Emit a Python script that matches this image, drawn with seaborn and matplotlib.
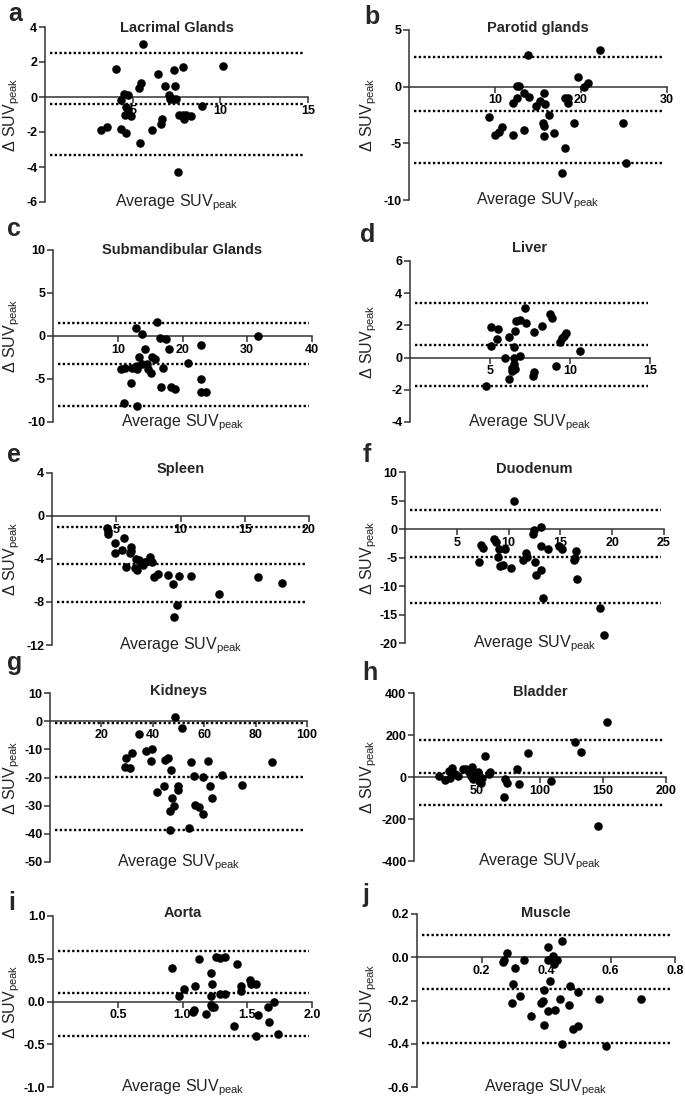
import matplotlib
matplotlib.use('Agg')
import matplotlib.pyplot as plt
import seaborn as sns

sns.set_style('ticks')
plt.rcParams['font.family'] = ['Liberation Sans', 'DejaVu Sans']
plt.rcParams['mathtext.default'] = 'regular'
plt.rcParams['axes.unicode_minus'] = False

# a - Lacrimal glands
lacrimal_avg = [5.58, 4.06, 3.2, 3.53, 4.35, 4.6, 4.31, 4.48, 4.74, 4.63, 4.55, 4.88,
                4.74, 5.35, 5.46, 5.39, 6.11, 6.45, 6.6, 6.66, 6.87, 7.1, 7.13, 7.29,
                7.36, 7.44, 7.48, 7.63, 7.61, 7.86, 7.89, 7.95, 8.05, 8.33, 8.94, 10.13]
lacrimal_diff = [3.05, 1.62, -1.9, -1.71, -1.81, -2.06, -0.15, 0.19, 0.13, -0.57, -1.05, -1.07,
                 -0.76, 0.53, 0.8, -2.63, -1.87, 1.3, -1.52, -1.24, 0.61, 0.1, -0.1, -0.1,
                 1.56, 0.61, -0.11, -1.0, -4.3, 1.71, -1.0, -1.24, -1.05, -1.07, -0.5, 1.77]
lacrimal_lines = [2.53, -0.38, -3.3]

# b - Parotid glands
parotid_avg = [13.86, 22.2, 19.7, 20.8, 20.35, 12.59, 12.8, 12.5, 12.05, 13.4, 13.9, 14.75,
               15.25, 15.64, 15.83, 16.3, 15.6, 15.75, 15.7, 16.87, 18.1, 18.45, 18.53, 19.15,
               18.1, 17.76, 9.34, 10.0, 10.42, 10.81, 12.12, 13.32, 24.9, 25.2]
parotid_diff = [2.79, 3.24, 0.88, 0.29, -0.06, 0.06, 0.06, -1.03, -1.41, -0.53, -0.94, -1.7,
                -1.26, -0.59, -1.53, -2.5, -3.24, -3.47, -4.32, -4.12, -0.97, -0.97, -1.41, -3.18,
                -5.44, -7.65, -2.65, -4.26, -3.97, -3.56, -4.26, -3.82, -3.24, -6.76]
parotid_lines = [2.59, -2.12, -6.76]

# c - Submandibular glands
subm_avg = [12.8, 13.73, 15.99, 16.45, 17.48, 17.89, 14.14, 13.26, 10.54, 11.05, 12.24, 12.9,
            13.0, 13.77, 14.55, 14.65, 15.06, 15.32, 15.83, 17.02, 20.87, 11.98, 16.66, 18.25,
            18.77, 22.78, 22.78, 22.93, 23.65, 31.67, 10.95, 12.9]
subm_diff = [0.97, 0.19, 1.59, -0.19, -0.35, -1.55, -1.47, -2.4, -3.83, -3.68, -3.75, -3.83,
             -3.44, -3.25, -3.29, -3.83, -4.26, -2.4, -2.7, -3.68, -3.09, -5.42, -5.88, -5.88,
             -6.15, -1.04, -4.99, -6.46, -6.46, 0.0, -7.81, -8.12]
subm_lines = [1.55, -3.29, -8.12]

# d - Liver
liver_avg = [4.75, 5.04, 5.04, 5.48, 5.42, 5.94, 6.21, 6.21, 6.35, 6.4, 6.5, 6.54,
             6.5, 6.5, 6.56, 6.6, 6.88, 6.88, 7.23, 7.19, 7.75, 7.75, 7.71, 8.27,
             8.75, 8.9, 9.13, 9.38, 9.52, 9.65, 9.73, 10.63]
liver_diff = [-1.77, 0.73, 1.92, 1.77, 1.15, 0.0, 1.25, -1.31, -0.83, -0.63, -0.42, -0.73,
              0.63, 0.0, 1.67, 2.29, 2.35, 0.1, 2.15, 3.06, 1.56, -0.9, -1.15, 1.94,
              2.71, 2.46, -0.52, 0.98, 1.19, 1.35, 1.52, 0.42]
liver_lines = [3.37, 0.79, -1.79]

# e - Spleen
spleen_avg = [4.26, 4.32, 4.39, 4.91, 4.91, 5.61, 5.48, 5.76, 6.13, 6.16, 6.07, 6.54,
              6.46, 6.59, 6.8, 6.98, 7.11, 7.26, 7.49, 7.62, 7.78, 7.93, 8.22, 9.04,
              9.38, 9.87, 9.69, 9.51, 10.8, 12.97, 16.02, 17.9]
spleen_diff = [-1.09, -1.37, -1.68, -2.49, -3.43, -2.02, -3.12, -4.74, -2.93, -3.24, -3.43, -3.96,
               -4.8, -4.98, -4.05, -4.42, -4.58, -4.27, -4.17, -3.8, -4.27, -5.67, -5.42, -5.51,
               -6.29, -5.61, -8.26, -9.35, -5.58, -7.29, -5.67, -6.23]
spleen_lines = [-1.0, -4.49, -8.04]

# f - Duodenum
duod_avg = [10.48, 13.16, 12.42, 12.35, 13.13, 13.81, 14.9, 15.16, 16.55, 16.45, 16.32, 16.61,
            13.32, 18.81, 19.19, 7.35, 7.52, 8.55, 8.77, 9.03, 9.61, 8.97, 9.19, 9.45,
            10.26, 7.19, 11.42, 11.68, 11.77, 12.52, 12.65, 13.16]
duod_diff = [4.91, 0.29, -0.12, -0.82, -2.92, -3.45, -2.92, -3.45, -3.92, -5.09, -5.5, -8.71,
             -12.1, -13.86, -18.54, -2.75, -3.33, -1.7, -2.28, -3.51, -3.51, -4.91, -6.55, -6.26,
             -6.84, -5.79, -5.5, -4.21, -4.91, -5.85, -8.13, -7.25]
duod_lines = [3.33, -4.85, -13.04]

# g - Kidneys
kidney_avg = [48.7, 51.3, 34.8, 29.7, 29.0, 31.0, 32.0, 37.2, 39.6, 39.4, 44.6, 45.9,
              47.2, 41.6, 44.3, 47.4, 48.4, 46.5, 49.7, 49.7, 46.5, 53.9, 54.9, 56.2,
              56.5, 58.1, 59.5, 59.7, 61.4, 62.4, 63.1, 66.8, 74.6, 86.3]
kidney_diff = [1.54, -2.37, -4.6, -13.25, -16.4, -16.6, -11.2, -10.65, -9.94, -14.2, -13.85, -13.25,
               -17.4, -25.1, -23.1, -27.2, -30.1, -32.0, -23.1, -24.5, -38.7, -37.9, -14.4, -19.4,
               -29.6, -30.4, -33.1, -19.8, -14.2, -23.1, -27.2, -19.2, -22.5, -14.4]
kidney_lines = [-0.5, -19.8, -38.7]

# h - Bladder
bladder_avg = [153, 128, 132.7, 90.5, 56.7, 82, 83, 109, 71.2, 72.6, 73.9, 146,
               19.8, 24.5, 27.7, 30.3, 32.2, 28.2, 34.6, 39, 41.4, 43.5, 46.2, 45.6,
               46.9, 48.8, 50.9, 51.5, 52.8, 54.1, 59.4, 60.7]
bladder_diff = [260, 167, 119, 114, 102, 40, -33, -21, -95, -10, -29, -232,
                6, -13, 27, 43, 16, -5, 3, 40, 38, 22, 48, 6,
                -10, 11, 22, -21, -29, -5, 16, 22]
bladder_lines = [174.6, 19, -132]

# i - Aorta
aorta_avg = [0.92, 0.97, 1.01, 1.1, 1.09, 1.08, 1.13, 1.18, 1.22, 1.22, 1.22, 1.23,
             1.23, 1.24, 1.26, 1.29, 1.33, 1.29, 1.33, 1.4, 1.42, 1.45, 1.45, 1.52,
             1.53, 1.57, 1.58, 1.57, 1.66, 1.67, 1.71, 1.74]
aorta_diff = [0.39, 0.06, 0.145, 0.18, -0.105, -0.12, 0.5, -0.145, 0.33, 0.06, -0.04, 0.21,
              -0.06, -0.07, 0.52, 0.51, 0.52, 0.09, 0.09, -0.29, 0.44, 0.18, 0.12, 0.25,
              0.21, 0.21, -0.16, -0.40, -0.07, -0.24, -0.01, -0.38]
aorta_lines = [0.59, 0.098, -0.40]

# j - Muscle
muscle_avg = [0.268, 0.271, 0.279, 0.304, 0.299, 0.294, 0.32, 0.333, 0.354, 0.384, 0.39, 0.394,
              0.394, 0.405, 0.405, 0.405, 0.413, 0.421, 0.425, 0.434, 0.428, 0.444, 0.449, 0.449,
              0.47, 0.475, 0.483, 0.5, 0.498, 0.565, 0.585, 0.695]
muscle_diff = [-0.022, -0.011, 0.02, -0.051, -0.122, -0.211, -0.18, -0.011, -0.27, -0.211, -0.2, -0.15,
               -0.312, 0.048, -0.011, -0.25, -0.111, 0.008, -0.031, -0.011, -0.242, -0.191, 0.077, -0.4,
               -0.219, -0.131, -0.332, -0.319, -0.16, -0.191, -0.412, -0.191]
muscle_lines = [0.105, -0.147, -0.398]

# panel setup: letter, title, data, ticks, pixel box (l, t, r, b), title offset px, letter pos px
panels = [
    dict(letter='a', title='Lacrimal Glands', x=lacrimal_avg, y=lacrimal_diff, lines=lacrimal_lines,
         xt=[5, 10, 15], yt=[-6, -4, -2, 0, 2, 4], box=(45, 27, 308, 202), tdy=5, lp=(8, 21)),
    dict(letter='b', title='Parotid glands', x=parotid_avg, y=parotid_diff, lines=parotid_lines,
         xt=[10, 20, 30], yt=[-10, -5, 0, 5], box=(409, 30, 667, 200), tdy=2, lp=(364, 24)),
    dict(letter='c', title='Submandibular Glands', x=subm_avg, y=subm_diff, lines=subm_lines,
         xt=[10, 20, 30, 40], yt=[-10, -5, 0, 5, 10], box=(53, 250, 312, 422), tdy=4, lp=(7, 236)),
    dict(letter='d', title='Liver', x=liver_avg, y=liver_diff, lines=liver_lines,
         xt=[5, 10, 15], yt=[-4, -2, 0, 2, 4, 6], box=(410, 261, 650, 422), tdy=-9, lp=(360, 242)),
    dict(letter='e', title='Spleen', x=spleen_avg, y=spleen_diff, lines=spleen_lines,
         xt=[5, 10, 15, 20], yt=[-12, -8, -4, 0, 4], box=(52, 473, 309, 645), tdy=0, lp=(7, 462)),
    dict(letter='f', title='Duodenum', x=duod_avg, y=duod_diff, lines=duod_lines,
         xt=[5, 10, 15, 20, 25], yt=[-20, -15, -10, -5, 0, 5, 10], box=(405, 472, 664, 643), tdy=1, lp=(363, 462)),
    dict(letter='g', title='Kidneys', x=kidney_avg, y=kidney_diff, lines=kidney_lines,
         xt=[20, 40, 60, 80, 100], yt=[-50, -40, -30, -20, -10, 0, 10], box=(50, 693, 307, 862), tdy=2, lp=(7, 670)),
    dict(letter='h', title='Bladder', x=bladder_avg, y=bladder_diff, lines=bladder_lines,
         xt=[50, 100, 150, 200], yt=[-400, -200, 0, 200, 400], box=(414, 693, 666, 861), tdy=3, lp=(362, 680)),
    dict(letter='i', title='Aorta', x=aorta_avg, y=aorta_diff, lines=aorta_lines,
         xt=[0.5, 1.0, 1.5, 2.0], yt=[-1.0, -0.5, 0.0, 0.5, 1.0], box=(53, 916, 312, 1087), tdy=1, lp=(8, 910)),
    dict(letter='j', title='Muscle', x=muscle_avg, y=muscle_diff, lines=muscle_lines,
         xt=[0.2, 0.4, 0.6, 0.8], yt=[-0.6, -0.4, -0.2, 0.0, 0.2], box=(417, 914, 675, 1087), tdy=3, lp=(362, 902)),
]

W, H = 685, 1100
fig = plt.figure(figsize=(W / 100, H / 100), dpi=100)

for p in panels:
    l, t, r, b = p['box']
    ax = fig.add_axes([l / W, 1 - b / H, (r - l) / W, (b - t) / H])
    ax.set_facecolor('none')

    for v in p['lines']:
        ax.axhline(v, xmin=0.02, xmax=0.99, color='black', lw=1.7, ls=(0, (1, 1.0)), zorder=2)
    sns.scatterplot(x=p['x'], y=p['y'], ax=ax, color='black', s=38, linewidth=0, zorder=3, clip_on=False)

    ax.set_xlim(0, p['xt'][-1])
    ax.set_ylim(p['yt'][0], p['yt'][-1])
    ax.set_xticks(p['xt'])
    ax.set_yticks(p['yt'])
    if isinstance(p['xt'][0], float):
        ax.set_xticklabels(['%.1f' % v for v in p['xt']])
        ax.set_yticklabels(['%.1f' % v for v in p['yt']])

    ax.spines['top'].set_visible(False)
    ax.spines['right'].set_visible(False)
    ax.spines['bottom'].set_position(('data', 0))
    for s in ['left', 'bottom']:
        ax.spines[s].set_linewidth(1.1)
        ax.spines[s].set_color('#333333')
    ax.tick_params(axis='both', direction='out', length=4, width=1.1, color='#333333',
                   labelsize=9, pad=1.5, labelcolor='black')
    for lbl in ax.get_xticklabels() + ax.get_yticklabels():
        lbl.set_fontweight('bold')

    # y label at fixed column position
    ylab_px = 12 if l < 200 else 369
    ax.set_ylabel(r'Δ SUV$_{peak}$', fontsize=11.5, color='#222222')
    ax.yaxis.set_label_coords((ylab_px - l) / (r - l), 0.5)
    ax.yaxis.label.set_va('center')

    ax.annotate(r'Average SUV$_{peak}$', xy=(0.5, 0), xycoords='axes fraction',
                xytext=(0, -3), textcoords='offset points', ha='center', va='baseline',
                fontsize=11.5, color='#222222')
    ax.annotate(p['title'], xy=(0.5, 1), xycoords='axes fraction',
                xytext=(0, -p['tdy'] * 0.72), textcoords='offset points', ha='center',
                va='baseline', fontsize=10.5, fontweight='bold')

    fig.text(p['lp'][0] / W, 1 - p['lp'][1] / H, p['letter'], fontsize=18,
             fontweight='bold', ha='left', va='baseline')

fig.savefig('out.png', dpi=100)
